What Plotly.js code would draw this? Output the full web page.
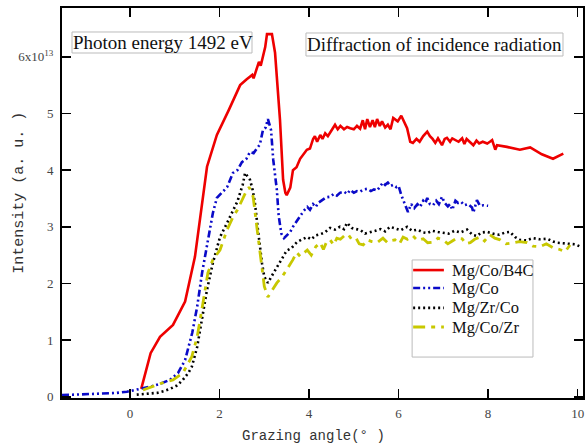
<!DOCTYPE html>
<html><head><meta charset="utf-8">
<script src="https://cdn.plot.ly/plotly-3.0.1.min.js"></script>
<style>body{margin:0;padding:0;background:#fff}#c{width:587px;height:446px}</style>
</head><body><div id="c"></div>
<script>
// Intensity in units of 1e13
const redX = [0.25,0.46,0.67,0.96,1.23,1.45,1.72,1.94,2.2,2.46,2.6,2.73,2.76,2.85,2.88,2.92,3.02,3.06,3.17,3.24,3.3,3.35,3.42,3.47,3.5,3.58,3.64,3.72,3.8,3.88,3.95,4.02,4.09,4.13,4.18,4.25,4.3,4.36,4.42,4.5,4.58,4.64,4.7,4.78,4.85,4.92,5.0,5.07,5.14,5.2,5.25,5.3,5.36,5.42,5.47,5.52,5.58,5.63,5.7,5.76,5.82,5.88,5.92,5.98,6.06,6.12,6.19,6.26,6.32,6.4,6.47,6.55,6.64,6.7,6.76,6.82,6.88,6.97,7.03,7.08,7.15,7.2,7.28,7.34,7.42,7.47,7.52,7.6,7.67,7.74,7.8,7.88,7.98,8.04,8.09,8.16,8.2,8.42,8.71,8.94,9.2,9.45,9.68];
const redY = [0.14,0.77,1.06,1.27,1.68,2.47,4.06,4.62,5.05,5.5,5.6,5.68,5.62,5.85,5.91,5.84,6.17,6.4,6.4,6.07,5.5,4.89,3.83,3.6,3.56,3.69,4.0,4.05,4.2,4.28,4.36,4.38,4.55,4.6,4.5,4.62,4.55,4.65,4.6,4.7,4.8,4.72,4.78,4.72,4.76,4.74,4.72,4.78,4.73,4.88,4.72,4.9,4.76,4.88,4.76,4.9,4.78,4.86,4.75,4.8,4.72,4.92,4.9,4.86,4.96,4.85,4.74,4.5,4.48,4.55,4.5,4.6,4.68,4.6,4.55,4.48,4.56,4.44,4.55,4.57,4.5,4.56,4.52,4.5,4.56,4.46,4.55,4.5,4.44,4.52,4.47,4.5,4.47,4.5,4.53,4.36,4.44,4.41,4.36,4.4,4.28,4.2,4.29];

const blueX = [-1.52,-1.2,-0.9,-0.6,-0.3,-0.07,0.1,0.27,0.5,0.67,0.89,1.07,1.23,1.39,1.5,1.61,1.74,1.85,1.94,2.08,2.17,2.3,2.4,2.5,2.6,2.68,2.76,2.84,2.9,2.97,3.03,3.08,3.15,3.2,3.28,3.32,3.38,3.44,3.5,3.58,3.64,3.72,3.8,3.88,3.96,4.02,4.09,4.15,4.2,4.3,4.38,4.47,4.55,4.62,4.69,4.78,4.85,4.92,5.0,5.07,5.14,5.22,5.3,5.38,5.45,5.52,5.6,5.65,5.7,5.76,5.82,5.88,5.95,6.0,6.06,6.15,6.21,6.28,6.35,6.42,6.48,6.55,6.6,6.64,6.7,6.77,6.84,6.9,6.97,7.03,7.1,7.15,7.2,7.27,7.33,7.4,7.47,7.55,7.64,7.67,7.75,7.82,7.9,8.0];
const blueY = [0.03,0.04,0.05,0.06,0.07,0.09,0.12,0.14,0.19,0.23,0.3,0.42,0.65,1.13,1.59,2.19,2.77,3.24,3.51,3.62,3.7,3.95,4.0,4.14,4.2,4.32,4.3,4.39,4.45,4.71,4.75,4.9,4.71,4.18,3.65,3.2,2.88,2.8,2.85,2.91,3.0,3.1,3.2,3.28,3.35,3.3,3.4,3.35,3.42,3.48,3.52,3.53,3.58,3.55,3.6,3.62,3.58,3.65,3.6,3.63,3.62,3.66,3.67,3.63,3.66,3.64,3.72,3.78,3.74,3.78,3.72,3.74,3.7,3.72,3.56,3.39,3.26,3.4,3.33,3.4,3.35,3.46,3.42,3.51,3.4,3.38,3.46,3.4,3.53,3.42,3.36,3.4,3.3,3.46,3.42,3.44,3.38,3.4,3.34,3.25,3.47,3.37,3.38,3.37];

const blackX = [0.15,0.4,0.6,0.75,0.89,1.05,1.18,1.3,1.38,1.5,1.61,1.72,1.85,2.01,2.17,2.3,2.4,2.46,2.52,2.57,2.62,2.68,2.74,2.79,2.85,2.9,2.95,3.0,3.08,3.18,3.28,3.38,3.5,3.6,3.73,3.85,3.96,4.05,4.15,4.25,4.35,4.47,4.58,4.69,4.78,4.85,4.95,5.05,5.15,5.25,5.36,5.48,5.6,5.7,5.81,5.92,6.05,6.19,6.3,6.42,6.55,6.64,6.75,6.88,7.0,7.12,7.25,7.38,7.53,7.65,7.75,7.85,7.98,8.1,8.25,8.38,8.49,8.6,8.71,8.85,9.0,9.15,9.32,9.45,9.54,9.7,9.83,9.95,10.06];
const blackY = [0.04,0.05,0.07,0.1,0.14,0.2,0.3,0.42,0.53,0.88,1.36,1.89,2.36,2.82,3.07,3.3,3.45,3.6,3.75,3.95,3.9,3.83,3.65,3.42,3.0,2.65,2.35,2.12,2.01,2.15,2.29,2.42,2.58,2.62,2.73,2.78,2.82,2.78,2.85,2.87,2.9,2.98,2.95,3.0,2.96,3.07,2.98,2.96,2.94,2.88,2.91,2.93,2.96,2.92,3.0,2.97,2.94,3.0,2.93,2.95,2.9,2.89,2.93,2.91,2.9,2.88,2.93,2.9,2.95,2.86,2.84,2.9,2.91,2.88,2.86,2.9,2.91,2.82,2.77,2.76,2.8,2.78,2.79,2.74,2.72,2.71,2.7,2.69,2.65];

const yelX = [0.29,0.5,0.7,0.96,1.18,1.38,1.5,1.63,1.74,1.85,2.01,2.17,2.3,2.4,2.5,2.58,2.66,2.75,2.84,2.95,3.0,3.08,3.18,3.28,3.4,3.5,3.64,3.72,3.8,3.96,4.05,4.15,4.25,4.32,4.4,4.47,4.55,4.62,4.7,4.8,4.87,4.95,5.05,5.12,5.21,5.3,5.4,5.52,5.6,5.65,5.75,5.85,5.92,6.02,6.1,6.2,6.32,6.42,6.55,6.65,6.77,6.88,6.99,7.1,7.2,7.3,7.42,7.5,7.6,7.7,7.82,7.92,8.04,8.15,8.27,8.4,8.56,8.7,8.87,9.0,9.16,9.3,9.45,9.6,9.72,9.83];
const yelY = [0.12,0.18,0.24,0.3,0.42,0.71,1.06,1.66,2.19,2.42,2.59,2.95,3.17,3.3,3.47,3.6,3.7,3.53,2.95,2.24,1.95,1.76,1.88,2.01,2.12,2.24,2.42,2.55,2.48,2.59,2.5,2.65,2.72,2.6,2.75,2.77,2.68,2.8,2.78,2.85,2.87,2.78,2.8,2.7,2.68,2.77,2.74,2.72,2.78,2.8,2.72,2.76,2.77,2.7,2.82,2.78,2.84,2.76,2.79,2.72,2.73,2.8,2.77,2.7,2.75,2.8,2.79,2.7,2.72,2.78,2.82,2.75,2.86,2.8,2.77,2.7,2.72,2.74,2.72,2.66,2.65,2.7,2.63,2.6,2.56,2.68];

const names = ['Mg/Co/B4C','Mg/Co','Mg/Zr/Co','Mg/Co/Zr'];
const yTickVals = [0,1,2,3,4,5,6];
const yTickText = ['0','1','2','3','4','5','6x10<sup>13</sup>'];
const xTickVals = [0,2,4,6,8,10];

const styles = [
  {color:'#ee0000', width:2.6, dash:'solid'},
  {color:'#0a0ac8', width:2.6, dash:'7px,3px,2px,3px,2px,3px'},
  {color:'#000000', width:2.6, dash:'2px,3px'},
  {color:'#c8c800', width:2.8, dash:'12px,6px,4px,6px'}
];
const xs = [redX, blueX, blackX, yelX];
const ys = [redY, blueY, blackY, yelY];

const traces = names.map((n,i) => ({x: xs[i], y: ys[i], name: n, mode:'lines', line: styles[i], showlegend:false}));

const axisCommon = {
  showline:true, linecolor:'#000', linewidth:2, mirror:'ticks',
  ticks:'inside', ticklen:9, tickwidth:1.5, tickcolor:'#000',
  showgrid:false, zeroline:false,
  tickfont:{family:'Liberation Serif', size:13, color:'#444'}
};

const serif = 'Liberation Serif, Times New Roman, serif';
const shapes = [
  {type:'rect', xref:'paper', yref:'paper', x0:0.672, x1:0.904, y0:0.105, y1:0.354, line:{color:'#bbb', width:1}},
  {type:'rect', xref:'paper', yref:'paper', x0:0.0192, x1:0.3647, y0:0.8846, y1:0.9385, line:{color:'#bbb', width:1}},
  {type:'rect', xref:'paper', yref:'paper', x0:0.4683, x1:0.9616, y0:0.8769, y1:0.9359, line:{color:'#bbb', width:1}}
];
const annotations = [
  {xref:'paper', yref:'paper', x:0.1948, y:0.9115, xanchor:'center', yanchor:'middle', showarrow:false,
   text:'Photon energy 1492 eV', font:{family:serif, size:19, color:'#111'}},
  {xref:'paper', yref:'paper', x:0.715, y:0.9064, xanchor:'center', yanchor:'middle', showarrow:false,
   text:'Diffraction of incidence radiation', font:{family:serif, size:19, color:'#111'}},
  {xref:'paper', yref:'paper', x:-0.081, y:0.526, xanchor:'center', yanchor:'middle', showarrow:false,
   textangle:-90, text:'Intensity (a. u. )', font:{family:'Liberation Mono', size:15, color:'#333'}},
  {xref:'paper', yref:'paper', x:0.482, y:-0.097, xanchor:'center', yanchor:'middle', showarrow:false,
   text:'Grazing angle(°\u00a0)', font:{family:'Liberation Mono', size:14, color:'#333'}}
];
// legend entries
const legY = [0.328, 0.282, 0.231, 0.182];
names.forEach((n,i) => {
  shapes.push({type:'line', xref:'paper', yref:'paper', x0:0.674, x1:0.733, y0:legY[i], y1:legY[i],
    line:{color:styles[i].color, width:styles[i].width, dash:styles[i].dash}});
  annotations.push({xref:'paper', yref:'paper', x:0.745, y:legY[i], xanchor:'left', yanchor:'middle', showarrow:false,
    text:n, font:{family:serif, size:16.5, color:'#111'}});
});

const layout = {
  width:587, height:446,
  margin:{l:62, r:4, t:8, b:48},
  paper_bgcolor:'#fff', plot_bgcolor:'#fff',
  showlegend:false,
  xaxis: Object.assign({}, axisCommon, {range:[-1.52, 10.12], tickvals:xTickVals, ticklabelstandoff:2}),
  yaxis: Object.assign({}, axisCommon, {range:[-0.02, 6.86], tickvals:yTickVals, ticktext:yTickText, ticklabelstandoff:4}),
  shapes: shapes,
  annotations: annotations
};

Plotly.newPlot('c', traces, layout, {displayModeBar:false, staticPlot:true});
</script></body></html>
